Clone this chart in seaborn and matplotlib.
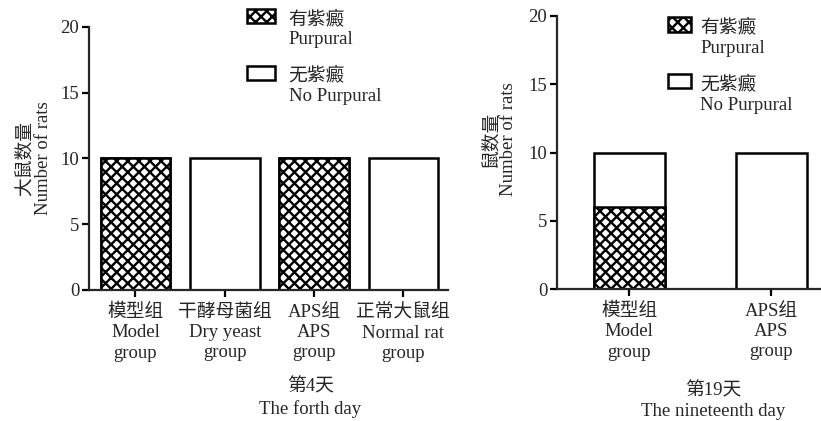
import matplotlib
matplotlib.use("Agg")
import matplotlib.pyplot as plt
import seaborn as sns
import pandas as pd
from matplotlib.patches import Patch, Rectangle
from matplotlib.legend_handler import HandlerPatch

# day 4
groups_d4 = ["模型组\nModel\ngroup", "干酵母菌组\nDry yeast\ngroup", "APS组\nAPS\ngroup", "正常大鼠组\nNormal rat\ngroup"]
purpura_d4 = [10, 0, 10, 0]
nopurpura_d4 = [0, 10, 0, 10]

# day 19
groups_d19 = ["模型组\nModel\ngroup", "APS组\nAPS\ngroup"]
purpura_d19 = [6, 0]
nopurpura_d19 = [4, 10]

legend_labels = ["有紫癜\nPurpural", "无紫癜\nNo Purpural"]
yticks = [0, 5, 10, 15, 20]

sns.set_style("ticks")
plt.rcParams['font.family'] = ['Liberation Serif', 'Noto Sans CJK SC']
plt.rcParams['hatch.linewidth'] = 1.7
plt.rcParams['axes.linewidth'] = 1.6
FS = 13.5

fig = plt.figure(figsize=(8.21, 4.21), dpi=100)
ax1 = fig.add_axes([0.1084, 0.3112, 0.4373, 0.6247])
ax2 = fig.add_axes([0.6784, 0.3135, 0.3216, 0.6485])


def raised_patch(legend, orig_handle, xdescent, ydescent, width, height, fontsize):
    # put the box next to the first (Chinese) line of the label
    return Rectangle((-xdescent, -ydescent + 0.7 * fontsize), width, height)


def draw(ax, groups, purp, nopurp, width, xlim, ylab, xlab, labx, laby, legpos, hlen, tpad):
    df = pd.DataFrame({"group": groups,
                       "total": [p + n for p, n in zip(purp, nopurp)],
                       "purp": purp})
    sns.barplot(data=df, x="group", y="total", color="white", edgecolor="black",
                linewidth=1.8, width=width, ax=ax, saturation=1)
    n = len(ax.patches)
    sns.barplot(data=df, x="group", y="purp", color="white", edgecolor="black",
                linewidth=1.8, width=width, ax=ax, saturation=1)
    for p in ax.patches[n:]:
        p.set_hatch("xxx")
        if p.get_height() == 0:
            p.set_visible(False)
    ax.set_ylim(0, 20)
    ax.set_xlim(*xlim)
    ax.set_yticks(yticks)
    ax.tick_params(axis="both", labelsize=FS, width=1.6, length=5, color="black")
    ax.tick_params(axis="x", pad=5)
    ax.tick_params(axis="y", pad=2)
    for lab in ax.get_xticklabels():
        lab.set_linespacing(1.25)
    ax.set_ylabel(ylab, fontsize=FS, linespacing=1.1)
    ax.set_xlabel(xlab, fontsize=FS, linespacing=1.3)
    ax.xaxis.set_label_coords(labx, laby)
    sns.despine(ax=ax)
    handles = [Patch(facecolor="white", edgecolor="black", hatch="xxx", linewidth=1.8),
               Patch(facecolor="white", edgecolor="black", linewidth=1.8)]
    hm = {h: HandlerPatch(patch_func=raised_patch) for h in handles}
    leg = ax.legend(handles, legend_labels, loc="upper left", bbox_to_anchor=legpos,
                    frameon=False, fontsize=FS, handlelength=hlen, handleheight=0.8,
                    handletextpad=tpad, labelspacing=1.0, borderpad=0, handler_map=hm)
    for t in leg.get_texts():
        t.set_linespacing(1.25)


draw(ax1, groups_d4, purpura_d4, nopurpura_d4, 0.78, (-0.52, 3.5),
     "大鼠数量\nNumber of rats", "第4天\nThe forth day", 0.616, -0.335, (0.415, 1.10), 1.5, 0.7)
draw(ax2, groups_d19, purpura_d19, nopurpura_d19, 0.5, (-0.51, 1.35),
     "鼠数量\nNumber of rats", "第19天\nThe nineteenth day", 0.59, -0.34, (0.386, 1.025), 1.2, 0.5)
ax1.yaxis.set_label_coords(-0.103, 0.5)
ax2.yaxis.set_label_coords(-0.15, 0.55)

fig.savefig("out.png", dpi=100)
